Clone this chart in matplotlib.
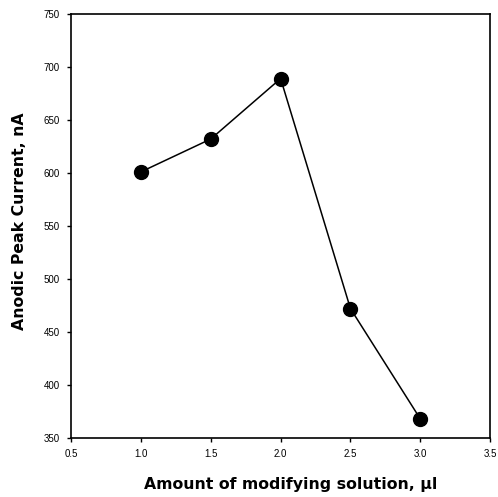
import matplotlib
matplotlib.use("Agg")
import matplotlib.pyplot as plt

plt.rcParams['font.family'] = ['Liberation Sans', 'DejaVu Sans']

volume_ul = [1.0, 1.5, 2.0, 2.5, 3.0]
peak_current_na = [601, 632, 689, 472, 368]
x_ticks = [0.5, 1.0, 1.5, 2.0, 2.5, 3.0, 3.5]
y_ticks = [350, 400, 450, 500, 550, 600, 650, 700, 750]

fig = plt.figure(figsize=(4.98, 4.97), dpi=100)
ax = fig.add_axes([0.143, 0.119, 0.841, 0.853])

ax.plot(volume_ul, peak_current_na, color='black', linewidth=1.1,
        marker='o', markersize=10, markerfacecolor='black', markeredgecolor='black')

ax.set_xlim(0.5, 3.5)
ax.set_ylim(350, 750)
ax.set_xticks(x_ticks)
ax.set_xticklabels([f"{v:.1f}" for v in x_ticks])
ax.set_yticks(y_ticks)
ax.tick_params(direction='out', length=3, width=1, labelsize=7)
ax.tick_params(axis='x', pad=5)
ax.tick_params(axis='y', pad=5)
for s in ax.spines.values():
    s.set_linewidth(1.2)

label_font = dict(family='DejaVu Sans', fontsize=11.3, fontweight='bold')
ax.set_xlabel("Amount of modifying solution, µl", va='center', **label_font)
ax.set_ylabel("Anodic Peak Current, nA", va='center', **label_font)
ax.xaxis.set_label_coords(0.523, -0.109)
ax.yaxis.set_label_coords(-0.123, 0.51)

fig.savefig("out.png", dpi=100)
